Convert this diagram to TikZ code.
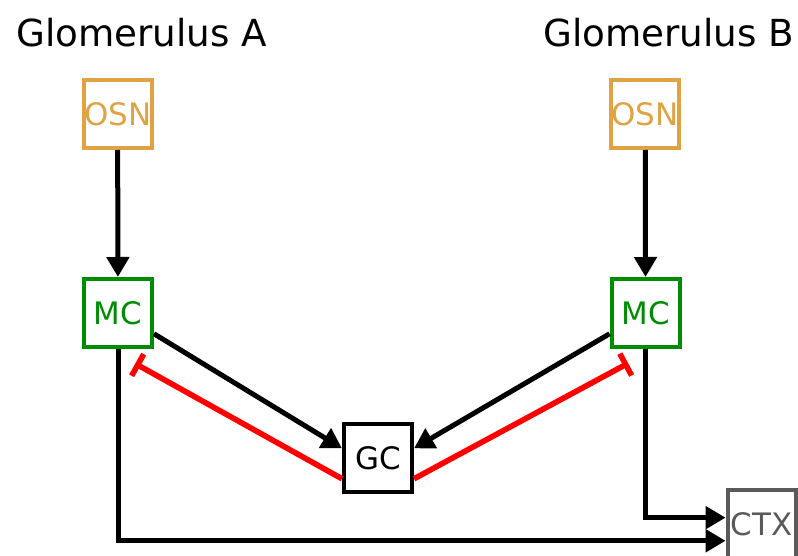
\documentclass[tikz,border=0pt]{standalone}
\usepackage{fontspec}
\setmainfont{DejaVu Sans}
\usetikzlibrary{arrows.meta}

\definecolor{osncol}{RGB}{224,162,66}
\definecolor{mccol}{RGB}{0,140,0}
\definecolor{ctxcol}{RGB}{90,90,90}

\begin{document}
\begin{tikzpicture}[
        cell/.style = {draw, line width=0.1cm, minimum size=1.7cm, inner sep=0pt,
                       font=\fontsize{22}{26}\selectfont},
        excite/.style = {line width=0.125cm, -{Triangle[width=0.55cm,length=0.5cm]}},
        inhibit/.style = {line width=0.14cm, red, -{Bar[width=0.62cm]}, shorten >=0.75cm}
    ]
        \clip (0,0) rectangle (19.95,13.875);

        % the two glomeruli
        \node[anchor=base, font=\fontsize{26.5}{30}\selectfont] (titleA) at (3.54,12.7) {Glomerulus A};
        \node[anchor=base, font=\fontsize{26.5}{30}\selectfont] (titleB) at (16.72,12.7) {Glomerulus B};
        \node[cell, draw=osncol, text=osncol] (osnA) at (2.94,11.025) {OSN};
        \node[cell, draw=osncol, text=osncol] (osnB) at (16.13,11.025) {OSN};
        \node[cell, draw=mccol, text=mccol] (mcA) at (2.95,6.05) {MC};
        \node[cell, draw=mccol, text=mccol] (mcB) at (16.14,6.05) {MC};

        % granule cell and cortex
        \node[cell] (gc) at (9.45,2.425) {GC};
        \node[cell, draw=ctxcol, text=ctxcol] (ctx) at (19.04,0.775) {CTX};

        % feedforward
        \draw[excite] (osnA) -- (mcA);
        \draw[excite] (osnB) -- (mcB);
        \draw[excite] (mcA.-30) -- (gc.165);
        \draw[excite] (mcB.210) -- (gc.15);

        % lateral inhibition
        \draw[inhibit] (gc.210) -- (mcA.-104);
        \draw[inhibit] (gc.-30) -- (mcB.-76);

        % output to cortex
        \draw[excite] (mcA.south) |- (ctx.205);
        \draw[excite] (mcB.south) |- (ctx.170);
    \end{tikzpicture}
\end{document}
